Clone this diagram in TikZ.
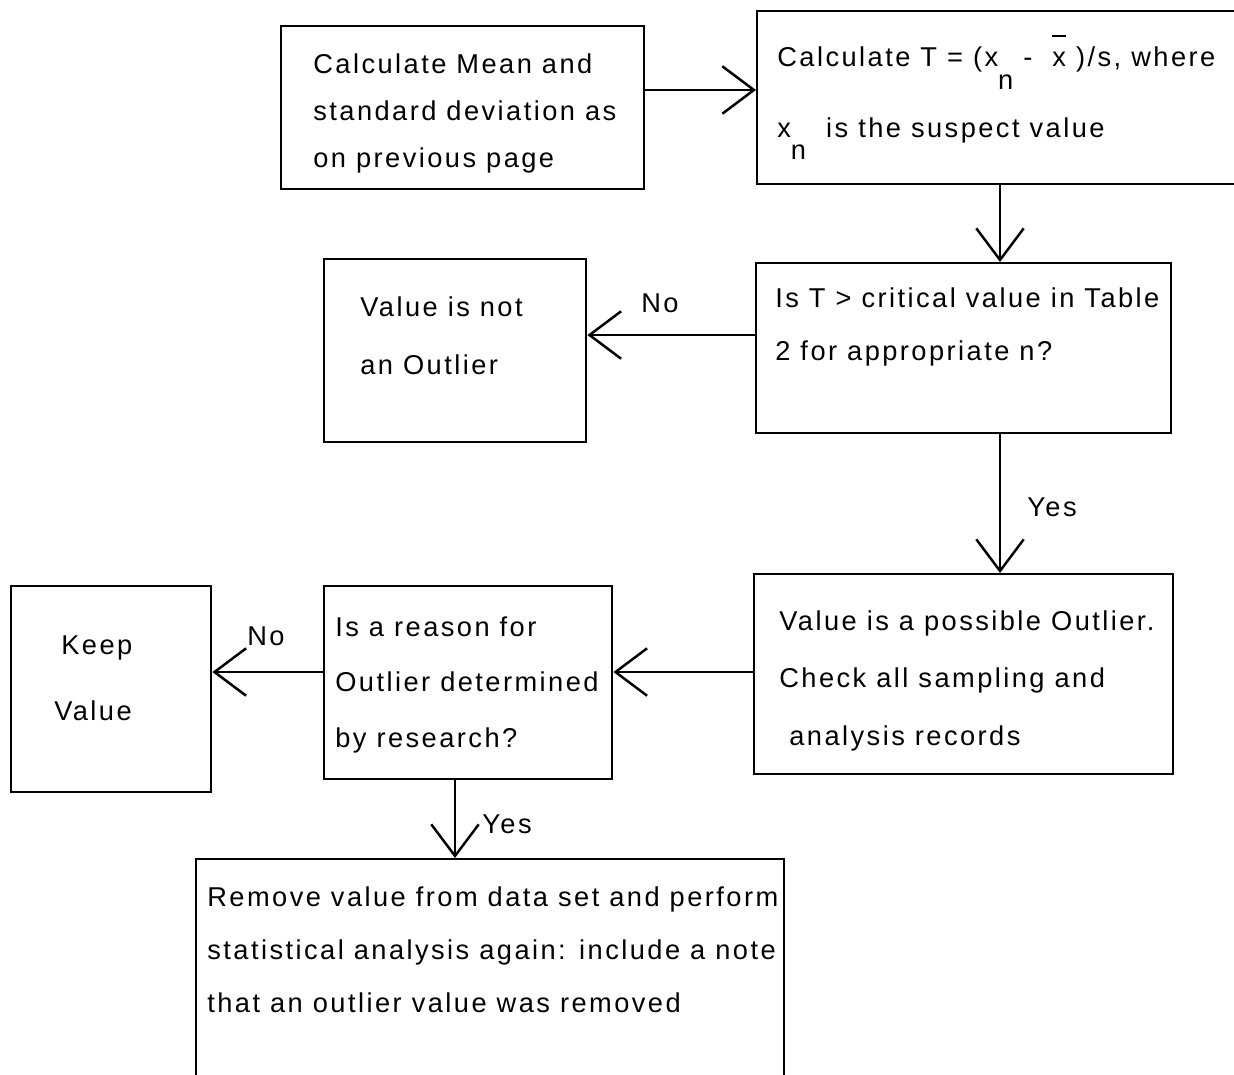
\documentclass[tikz,border=0pt]{standalone}
\usepackage{fontspec}
\setmainfont{Liberation Sans}[LetterSpace=9]
\usetikzlibrary{arrows.meta}

\newcommand{\lowsub}[1]{\raisebox{-13pt}{#1}}
\newcommand{\barx}{\setbox0\hbox{x}\rlap{\raisebox{17pt}{\rule{\wd0}{1pt}}}x}

\tikzset{
  box/.style={draw, line width=1.4pt, anchor=north west, inner sep=0pt},
  txt/.style={anchor=base west, align=left, inner sep=0pt, font=\fontsize{15.5}{#1}\selectfont},
  arr/.style={line width=1.4pt, -{Straight Barb[length=18pt, width=27pt, line width=1.4pt]}},
  lbl/.style={inner sep=0pt, font=\fontsize{15.5}{18}\selectfont}
}

\begin{document}
\begin{tikzpicture}[x=0.02cm, y=-0.02cm]
  \path[use as bounding box] (0,0) rectangle (1234,1075);
  \clip (0,0) rectangle (1234,1075);
  % boxes
  \node[box, minimum width=7.26cm, minimum height=3.26cm] (mean) at (280,25) {};
  \node[box, minimum width=9.8cm, minimum height=3.46cm] (tstat) at (756,10) {};
  \node[box, minimum width=8.3cm, minimum height=3.4cm] (crit) at (755,262) {};
  \node[box, minimum width=5.24cm, minimum height=3.66cm] (notout) at (323,258) {};
  \node[box, minimum width=8.38cm, minimum height=4cm] (possible) at (753,573) {};
  \node[box, minimum width=5.76cm, minimum height=3.86cm] (reason) at (323,585) {};
  \node[box, minimum width=4cm, minimum height=4.12cm] (keep) at (10,585) {};
  \node[box, minimum width=11.76cm, minimum height=4.8cm] (remove) at (195,858) {};
  % texts (placed by the baseline of the last line)
  \node[txt=26.6pt] (meantxt) at (313,167) {Calculate Mean and\\standard deviation as\\on previous page};
  \node[txt=40pt] (tstattxt) at (777,137) {Calculate T = (x\lowsub{n}\ - \ \barx\ )/s, where\\x\lowsub{n}\ \ is the suspect value};
  \node[txt=30pt] (crittxt) at (775,360) {Is T \textgreater\ critical value in Table\\2 for appropriate n?};
  \node[txt=33pt] (notouttxt) at (360,374) {Value is not\\an Outlier};
  \node[txt=32.5pt] (possibletxt) at (779,745) {Value is a possible Outlier.\\Check all sampling and\\\ analysis records};
  \node[txt=31.5pt] (reasontxt) at (335,747) {Is a reason for\\Outlier determined\\by research?};
  \node[txt=37.4pt] (keeptxt) at (61,720) {Keep\\[0pt]\hspace*{-4pt}Value};
  \node[txt=30pt] (removetxt) at (207,1012) {Remove value from data set and perform\\statistical analysis again: include a note\\that an outlier value was removed};
  % connectors
  \draw[arr] (mean.east |- 0,90) -- (tstat.west |- 0,90);
  \draw[arr] (tstat.south -| 1000,0) -- (crit.north -| 1000,0);
  \draw[arr] (crit.west |- 0,335) -- (notout.east |- 0,335);
  \draw[arr] (crit.south -| 1000,0) -- (possible.north -| 1000,0);
  \draw[arr] (possible.west |- 0,672) -- (reason.east |- 0,672);
  \draw[arr] (reason.west |- 0,672) -- (keep.east |- 0,672);
  \draw[arr] (reason.south -| 455,0) -- (remove.north -| 455,0);
  % labels
  \node[lbl] (no1) at (660,303) {No};
  \node[lbl] (yes1) at (1052,507) {Yes};
  \node[lbl] (no2) at (266,636) {No};
  \node[lbl] (yes2) at (507,824) {Yes};
\end{tikzpicture}
\end{document}
